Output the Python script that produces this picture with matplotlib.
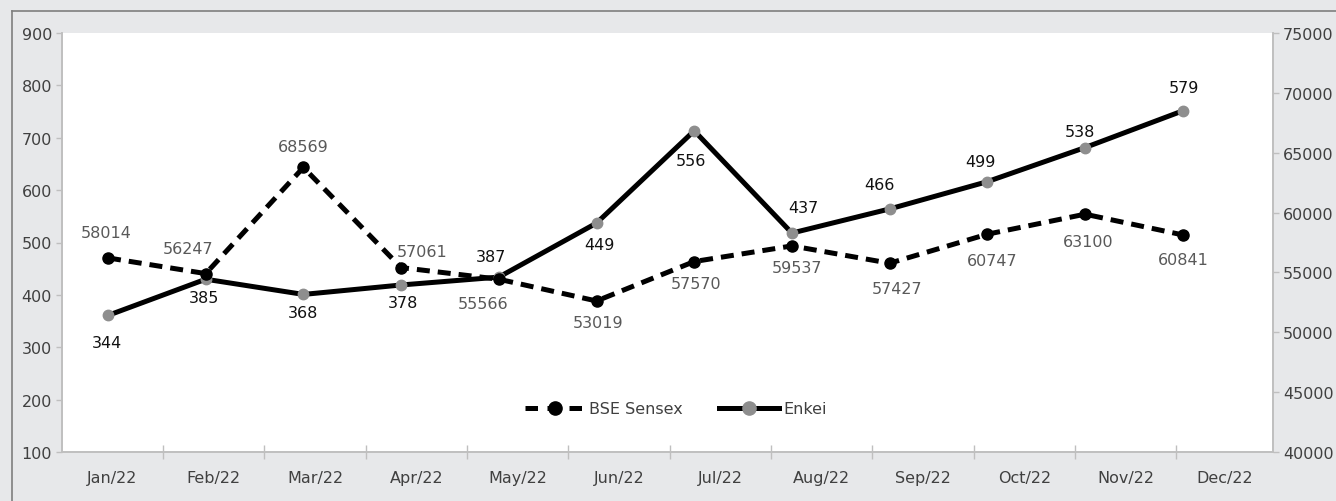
import matplotlib
matplotlib.use("Agg")
import matplotlib.pyplot as plt
from matplotlib.lines import Line2D
import numpy as np

plt.rcParams['font.family'] = ['DejaVu Sans']

# data
months = ['Jan/22', 'Feb/22', 'Mar/22', 'Apr/22', 'May/22', 'Jun/22',
          'Jul/22', 'Aug/22', 'Sep/22', 'Oct/22', 'Nov/22', 'Dec/22']
sensex_labels = [58014, 56247, 68569, 57061, 55566, 53019,
                 57570, 59537, 57427, 60747, 63100, 60841]
enkei_labels = [344, 385, 368, 378, 387, 449, 556, 437, 466, 499, 538, 579]
# plotted heights as they appear against the axes
sensex_vals = [56214, 54906, 63761, 55409, 54438, 52622,
               55912, 57216, 55772, 58191, 59862, 58134]
enkei_vals = [361, 430, 401, 419, 434, 537, 713, 518, 564, 616, 681, 751]

# label placement (pixels, relative to each point)
sensex_off = [(-2, 25), (-18, 25), (0, 21), (21, 16), (-16, -24), (2, -22),
              (2, -22), (5, -22), (7, -25), (5, -26), (3, -27), (1, -25)]
enkei_off = [(-1, -27), (-2, -18), (0, -18), (2, -18), (-8, 21), (3, -21),
             (-3, -30), (11, 26), (-10, 24), (-7, 20), (-5, 16), (1, 23)]

bg = '#e7e8ea'
axis_col = '#bfbfbf'
tick_col = '#404040'
fs = 11.5

fig = plt.figure(figsize=(13.36, 5.02), dpi=100, facecolor=bg)
ax = fig.add_axes([61.7 / 1336, 48.7 / 502, 1211 / 1336, 419.6 / 502])
ax.set_facecolor('white')
ax2 = ax.twinx()

x = np.arange(len(months))
xmin, xmax = -0.474, 11.921
band = 1.037

# Enkei on left axis
ax.plot(x, enkei_vals, color='black', lw=3.6, marker='o', ms=7.5,
        mfc='#8e8e8e', mec='#8e8e8e', zorder=3, solid_capstyle='butt')
for i, (v, t) in enumerate(zip(enkei_vals, enkei_labels)):
    ax.annotate(str(t), (x[i], v), xytext=enkei_off[i], textcoords='offset pixels',
                ha='center', va='center', fontsize=fs, color='#111111')

# BSE Sensex on right axis
ax2.plot(x, sensex_vals, color='black', lw=3.6, dashes=(2.6, 1.6),
         marker='o', ms=8, mfc='black', mec='black', zorder=3)
for i, (v, t) in enumerate(zip(sensex_vals, sensex_labels)):
    ax2.annotate(str(t), (x[i], v), xytext=sensex_off[i], textcoords='offset pixels',
                 ha='center', va='center', fontsize=fs, color='#595959')

ax.set_xlim(xmin, xmax)
ax.set_ylim(100, 900)
ax2.set_ylim(40000, 75000)
ax.set_yticks(np.arange(100, 901, 100))
ax2.set_yticks(np.arange(40000, 75001, 5000))

bounds = xmin + band * np.arange(1, 12)
centers = xmin + band * (np.arange(12) + 0.5)
centers[-1] = (bounds[-1] + xmax) / 2
ax.set_xticks(bounds)
ax.set_xticklabels([])
ax.set_xticks(centers, minor=True)
ax.set_xticklabels(months, minor=True)
ax.tick_params(axis='x', which='major', direction='inout', length=9.5,
               width=1, color=axis_col)
ax.tick_params(axis='x', which='minor', length=0, pad=13,
               labelsize=fs, labelcolor=tick_col)
ax.tick_params(axis='y', direction='out', length=4, width=1, color=axis_col,
               labelsize=fs, labelcolor=tick_col, pad=3)
ax2.tick_params(axis='y', direction='out', length=4.5, width=1, color=axis_col,
                labelsize=fs, labelcolor=tick_col, pad=3)

for a in (ax, ax2):
    for side in ('top', 'left', 'right', 'bottom'):
        a.spines[side].set_color(axis_col)
        a.spines[side].set_linewidth(1.2)
    a.spines['top'].set_visible(False)

handles = [
    Line2D([], [], color='black', lw=3.6, dashes=(2.5, 1.9), marker='o', ms=9.5,
           mfc='black', mec='black'),
    Line2D([], [], color='black', lw=3.6, marker='o', ms=9.5,
           mfc='#8e8e8e', mec='#8e8e8e'),
]
leg = ax2.legend(handles, ['BSE Sensex', 'Enkei'], loc='center',
                 bbox_to_anchor=(676 / 1336, 1 - 410 / 502),
                 bbox_transform=fig.transFigure, ncol=2, frameon=False,
                 fontsize=fs, handlelength=3.7, handletextpad=0.3,
                 columnspacing=2.3, labelcolor=tick_col)

# outer frame (top and left edges only, as in the reference)
fig.add_artist(Line2D([12 / 1336, 1], [1 - 12 / 502, 1 - 12 / 502],
                      transform=fig.transFigure, color='#7f7f7f', lw=1.2))
fig.add_artist(Line2D([12 / 1336, 12 / 1336], [0, 1 - 12 / 502],
                      transform=fig.transFigure, color='#7f7f7f', lw=1.2))

fig.savefig('out.png', dpi=100, facecolor=bg)
